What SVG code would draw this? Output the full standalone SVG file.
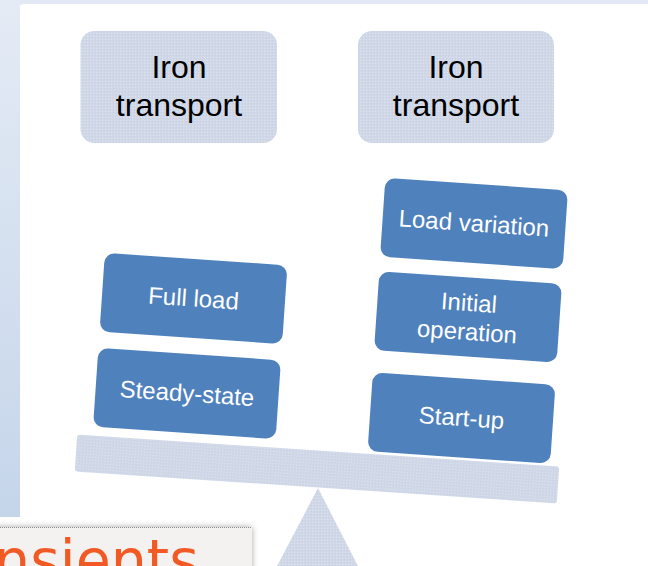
<svg xmlns="http://www.w3.org/2000/svg" width="648" height="566" viewBox="0 0 648 566">
<defs>
<linearGradient id="strip" x1="0" y1="0" x2="0" y2="1">
<stop offset="0" stop-color="#e4ebf5"/>
<stop offset="1" stop-color="#c5d5ea"/>
</linearGradient>
<pattern id="tex" width="3" height="3" patternUnits="userSpaceOnUse">
<rect width="3" height="3" fill="#d0d8e8"/>
<rect x="0" y="0" width="1" height="1" fill="#dde3ef"/>
<rect x="2" y="1" width="1" height="1" fill="#c8d1e3"/>
</pattern>
<filter id="sh" x="-10%" y="-30%" width="120%" height="160%">
<feGaussianBlur in="SourceAlpha" stdDeviation="3"/>
<feOffset dx="0" dy="0"/>
<feComponentTransfer><feFuncA type="linear" slope="0.35"/></feComponentTransfer>
<feMerge><feMergeNode/><feMergeNode in="SourceGraphic"/></feMerge>
</filter>
<style>
.gray{fill:url(#tex);}
.blue{fill:#4f81bd;stroke:#ffffff;stroke-width:2;}
.tb{font-family:"Liberation Sans",Arial,sans-serif;font-size:32px;fill:#000;text-anchor:middle;}
.tw{font-family:"Liberation Sans",Arial,sans-serif;font-size:24px;fill:#fff;text-anchor:middle;}
</style>
</defs>
<rect width="648" height="566" fill="#ffffff"/>
<rect x="0" y="0" width="648" height="5" fill="#e2e9f4"/>
<rect x="0" y="0" width="20" height="517" fill="url(#strip)"/>
<rect x="20" y="4" width="640" height="600" rx="4" fill="#ffffff"/>

<g id="node-iron-left">
<rect class="gray" x="80.5" y="31" width="196.5" height="112" rx="14"/>
<text class="tb" x="179" y="78">Iron</text>
<text class="tb" x="179" y="116">transport</text>
</g>
<g id="node-iron-right">
<rect class="gray" x="358" y="31" width="196" height="112" rx="14"/>
<text class="tb" x="456" y="78">Iron</text>
<text class="tb" x="456" y="116">transport</text>
</g>

<g id="node-fulcrum">
<polygon class="gray" points="318,488 360,570 275,570"/>
</g>
<g id="node-beam">
<rect class="gray" transform="translate(317,469) rotate(3.8)" x="-241.5" y="-18.5" width="483" height="37" rx="3"/>
</g>

<g id="node-full-load" transform="translate(193.5,298.5) rotate(3.9)">
<rect class="blue" x="-92.5" y="-40.5" width="185" height="81" rx="11"/>
<text class="tw" x="0" y="8">Full load</text>
</g>
<g id="node-steady-state" transform="translate(187,393.5) rotate(3.9)">
<rect class="blue" x="-92.5" y="-40.5" width="185" height="81" rx="11"/>
<text class="tw" x="0" y="8">Steady-state</text>
</g>
<g id="node-load-variation" transform="translate(474,223.5) rotate(3.9)">
<rect class="blue" x="-92.5" y="-40.5" width="185" height="81" rx="11"/>
<text class="tw" x="0" y="8">Load variation</text>
</g>
<g id="node-initial-operation" transform="translate(468,317) rotate(3.9)">
<rect class="blue" x="-92.5" y="-40.5" width="185" height="81" rx="11"/>
<text class="tw" x="0" y="-6">Initial</text>
<text class="tw" x="0" y="23">operation</text>
</g>
<g id="node-start-up" transform="translate(461.5,418) rotate(3.9)">
<rect class="blue" x="-92.5" y="-40.5" width="185" height="81" rx="11"/>
<text class="tw" x="0" y="8">Start-up</text>
</g>

<g id="connectors"></g>

<g id="node-transients">
<rect x="-10" y="527" width="262" height="60" fill="#f3f2f1" filter="url(#sh)"/>
<line x1="0" y1="527.5" x2="252" y2="527.5" stroke="#8a8a8a" stroke-width="1" stroke-dasharray="1,1"/>
<text x="-6" y="580" font-family="DejaVu Sans,Verdana,sans-serif" font-size="57" fill="#f15a24">nsients</text>
</g>
</svg>
